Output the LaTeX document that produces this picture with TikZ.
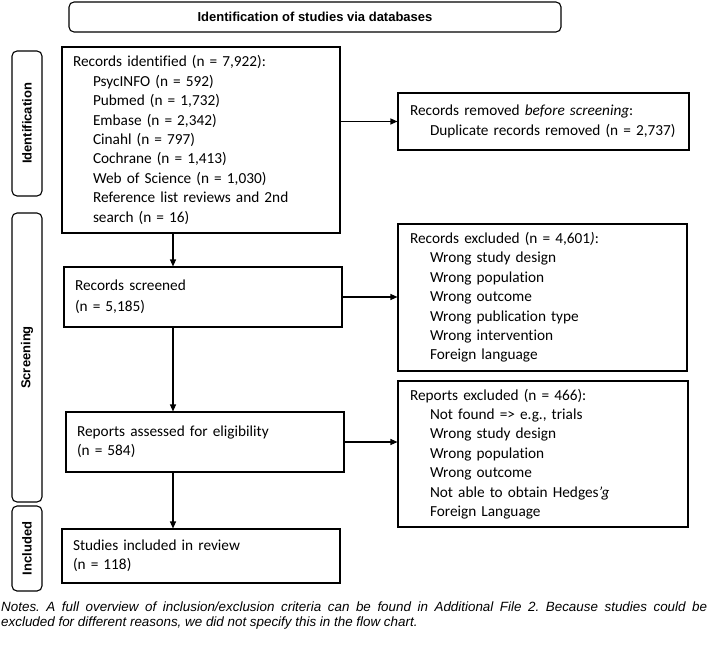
\documentclass[tikz,border=0pt]{standalone}
\usepackage{fontspec}
\setmainfont[Ligatures=NoCommon]{Carlito}
\newfontfamily\headfont{Liberation Sans}
\usetikzlibrary{arrows.meta}
\newcommand{\indnt}{\hspace*{20pt}}

\tikzset{
  box/.style={draw, line width=1.1pt, align=left, inner xsep=11pt, inner ysep=0pt,
    font=\fontsize{15.3}{19.4}\selectfont},
  phase/.style={draw, line width=1.1pt, rounded corners=5pt, minimum height=30pt,
    inner sep=0pt, rotate=90, font=\headfont\bfseries\fontsize{13}{15}\selectfont},
  arr/.style={-{Triangle[length=7pt,width=6pt]}, line width=1.1pt},
}

\begin{document}
\begin{tikzpicture}[x=1pt,y=-1pt]
  \useasboundingbox (0,0) rectangle (708,647);

  % header and phases
  \node[draw, line width=1.1pt, rounded corners=5pt, minimum width=492pt, minimum height=30pt,
    font=\headfont\bfseries\fontsize{13}{15}\selectfont] (head) at (315,17)
    {Identification of studies via databases};
  \node[phase, minimum width=145pt] (phid) at (27,123.5) {Identification};
  \node[phase, minimum width=289pt] (phscr) at (27,357.5) {Screening};
  \node[phase, minimum width=85pt] (phinc) at (27,548.5) {Included};

  % main column
  \node[box, text width=256pt, minimum height=186pt] (ident) at (201,140)
    {Records identified (n = 7,922):\\
     \indnt PsycINFO (n = 592)\\
     \indnt Pubmed (n = 1,732)\\
     \indnt Embase (n = 2,342)\\
     \indnt Cinahl (n = 797)\\
     \indnt Cochrane (n = 1,413)\\
     \indnt Web of Science (n = 1,030)\\
     \indnt Reference list reviews and 2nd\\
     \indnt search (n = 16)};
  \node[box, text width=256pt, minimum height=60pt] (screen) at (203,297)
    {Records screened\\[2pt](n = 5,185)};
  \node[box, text width=256pt, minimum height=60pt] (assess) at (205,442)
    {Reports assessed for eligibility\\(n = 584)};
  \node[box, text width=256pt, minimum height=54pt] (incl) at (201,556)
    {Studies included in review\\(n = 118)};

  % right column
  \node[box, inner xsep=12pt, text width=267pt, minimum height=57pt] (removed) at (543.5,121.5)
    {Records removed \textit{before screening}:\\
     \indnt Duplicate records removed (n = 2,737)};
  \node[box, inner xsep=12pt, text width=265pt, minimum height=147pt] (excl) at (542.5,297.5)
    {Records excluded (n = 4,601\textit{)}:\\
     \indnt Wrong study design\\
     \indnt Wrong population\\
     \indnt Wrong outcome\\
     \indnt Wrong publication type\\
     \indnt Wrong intervention\\
     \indnt Foreign language};
  \node[box, inner xsep=12pt, text width=266pt, minimum height=146pt] (rexcl) at (543,454)
    {Reports excluded (n = 466):\\
     \indnt Not found => e.g., trials\\
     \indnt Wrong study design\\
     \indnt Wrong population\\
     \indnt Wrong outcome\\
     \indnt Not able to obtain Hedges\textit{’g}\\
     \indnt Foreign Language};

  % connectors
  \coordinate (spine) at (173,0);
  \draw[arr] (ident.south -| spine) -- (screen.north -| spine);
  \draw[arr] (screen.south -| spine) -- (assess.north -| spine);
  \draw[arr] (assess.south -| spine) -- (incl.north -| spine);
  \draw[arr] (ident.east |- removed.west) -- (removed.west);
  \draw[arr] (screen.east) -- (screen.east -| excl.west);
  \draw[arr] (assess.east) -- (assess.east -| rexcl.west);

  % notes
  \node[anchor=base west, inner sep=0pt, align=left,
    font=\headfont\itshape\fontsize{13.4}{14.6}\selectfont\frenchspacing] (notes) at (1,626)
    {\makebox[706pt][s]{Notes. A full overview of inclusion/exclusion criteria can be found in Additional File 2. Because studies could be}\\
     excluded for different reasons, we did not specify this in the flow chart.};
\end{tikzpicture}
\end{document}
